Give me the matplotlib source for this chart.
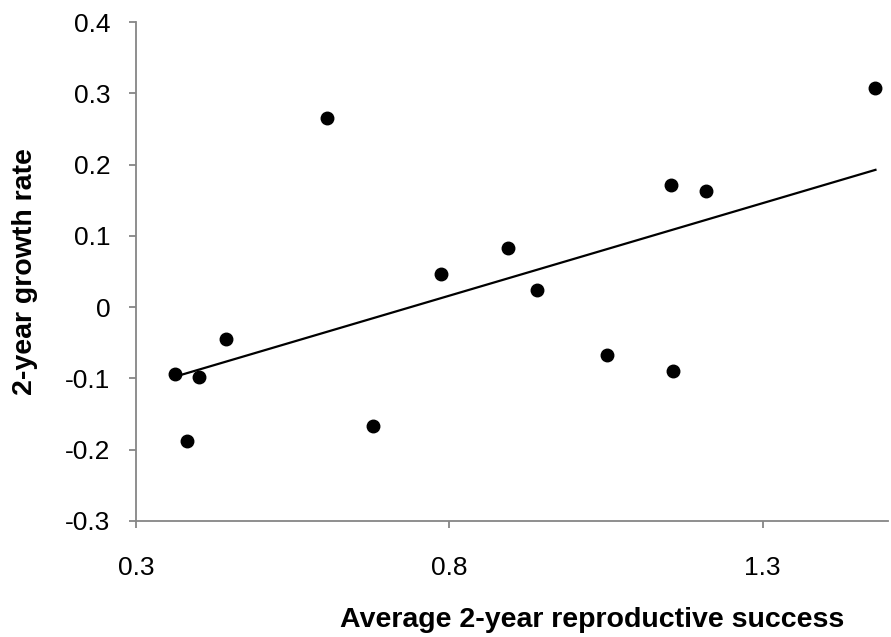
import numpy as np
import matplotlib

matplotlib.use("Agg")
import matplotlib.pyplot as plt

# Values
reproductive_success = [0.362, 0.400, 0.444, 0.382, 0.605, 0.678, 0.787, 0.893,
                        0.940, 1.051, 1.153, 1.157, 1.210, 1.480]
growth_rate = [-0.094, -0.098, -0.045, -0.188, 0.266, -0.167, 0.047, 0.083,
               0.024, -0.067, 0.172, -0.089, 0.163, 0.307]
x_ticks = [0.3, 0.8, 1.3]
y_ticks = [-0.3, -0.2, -0.1, 0, 0.1, 0.2, 0.3, 0.4]
y_tick_labels = ["-0.3", "-0.2", "-0.1", "0", "0.1", "0.2", "0.3", "0.4"]

plt.rcParams["font.family"] = ["Liberation Sans", "DejaVu Sans"]

x = np.asarray(reproductive_success)
y = np.asarray(growth_rate)
slope, intercept = np.polyfit(x, y, 1)
trend_x = np.array([x.min(), x.max()])

fig = plt.figure(figsize=(8.91, 6.37), dpi=100)
axis = fig.add_axes([136 / 891, 1 - 521 / 637, 752 / 891, 499 / 637])

axis.plot(trend_x, slope * trend_x + intercept, color="black", linewidth=1.6)
axis.plot(x, y, "o", color="black", markersize=9, linestyle="none")

axis.set_xlim(0.3, 1.5)
axis.set_ylim(-0.3, 0.4)
axis.set_xticks(x_ticks)
axis.set_xticklabels([f"{t:.1f}" for t in x_ticks])
axis.set_yticks(y_ticks)
axis.set_yticklabels(y_tick_labels)

for side in ("top", "right"):
    axis.spines[side].set_visible(False)
for side in ("left", "bottom"):
    axis.spines[side].set_color("#868686")
    axis.spines[side].set_linewidth(1.3)
axis.tick_params(direction="out", length=5, width=1.3, color="#868686",
                 labelsize=19, labelcolor="black")
axis.tick_params(axis="x", pad=20)
axis.tick_params(axis="y", pad=13.5)

fig.text(592 / 891, 1 - 627 / 637, "Average 2-year reproductive success",
         ha="center", va="baseline", fontsize=20.5, fontweight="bold")
fig.text(25 / 891, 1 - 272 / 637, "2-year growth rate", rotation=90,
         ha="center", va="center", fontsize=20.5, fontweight="bold")

fig.savefig("out.png", dpi=100)
plt.close(fig)
